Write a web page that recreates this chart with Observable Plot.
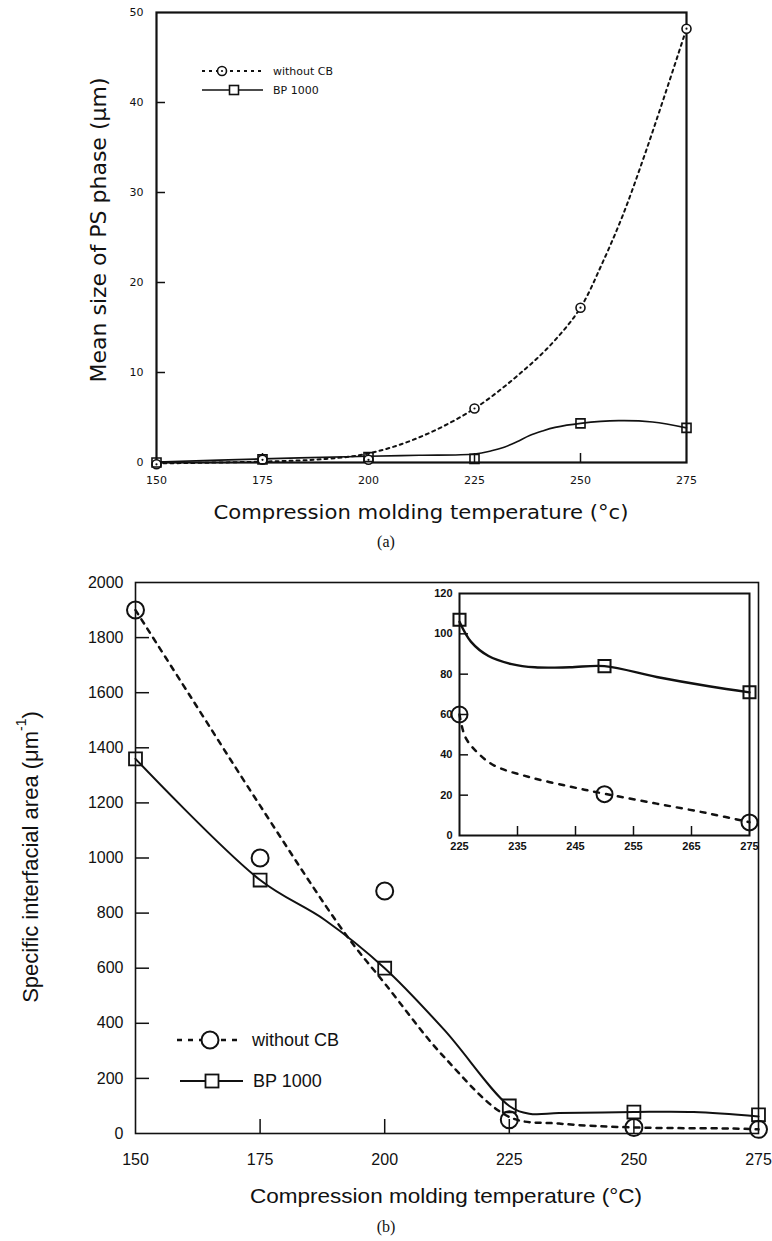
<!DOCTYPE html>
<html><head><meta charset="utf-8">
<script src="https://cdn.jsdelivr.net/npm/d3@7"></script>
<script src="https://cdn.jsdelivr.net/npm/@observablehq/plot@0.6"></script>
<style>
body{margin:0;background:#fff;}
#wrap{position:relative;width:772px;height:1241px;overflow:hidden;background:#fff;}
#wrap svg{position:absolute;}
</style></head><body><div id="wrap"></div>
<script>
// ---------- (a) mean size of PS phase ----------
const temps = [150, 175, 200, 225, 250, 275];
const sizeNoCB = [-0.2, 0.3, 0.3, 6.0, 17.2, 48.2];
const sizeBP = [0, 0.35, 0.6, 0.4, 4.35, 3.85];
const sizeNoCBCurveT = [150, 175, 190, 200, 212, 225, 237, 244, 250, 255, 260, 265, 270, 275];
const sizeNoCBCurve = [-0.1, 0.1, 0.4, 1.0, 2.8, 6.0, 10.4, 13.6, 17.2, 22.0, 27.5, 34.0, 41.0, 48.2];
const sizeBPCurveT = [150, 175, 200, 212, 225, 229, 232, 235, 238, 241, 244, 250, 259, 267, 275];
const sizeBPCurve = [0.05, 0.4, 0.7, 0.8, 0.95, 1.3, 1.7, 2.3, 3.0, 3.5, 3.9, 4.35, 4.65, 4.5, 3.85];
const sizeTicksX = [150, 175, 200, 225, 250, 275];
const sizeTicksY = [0, 10, 20, 30, 40, 50];

// ---------- (b) specific interfacial area ----------
const areaNoCB = [1900, 1000, 880, 50, 22, 15];
const areaBP = [1360, 920, 600, 100, 78, 68];
const areaNoCBCurveT = [150, 161, 175, 192, 200, 212, 225, 235, 250, 270, 275];
const areaNoCBCurve = [1900, 1587, 1190, 727, 545, 276, 60, 36, 22, 18, 15];
const areaBPCurveT = [150, 175, 188, 200, 212, 225, 229, 235, 250, 262, 275];
const areaBPCurve = [1360, 920, 775, 600, 375, 100, 72, 74, 78, 78, 62];
const areaTicksX = [150, 175, 200, 225, 250, 275];
const areaTicksY = [0, 200, 400, 600, 800, 1000, 1200, 1400, 1600, 1800, 2000];

// ---------- inset ----------
const insetTemps = [225, 250, 275];
const insetNoCB = [60, 20.5, 6.5];
const insetBP = [107, 84, 71];
const insetNoCBCurveT = [225, 226, 228, 231, 237, 244, 250, 259, 268, 275];
const insetNoCBCurve = [60, 48.8, 41.4, 34.7, 29, 24.3, 20.7, 15.8, 10.9, 6.6];
const insetBPCurveT = [225, 227, 230, 234, 238, 244, 250, 259, 268, 275];
const insetBPCurve = [106, 96, 89, 85, 83.4, 83.4, 84, 78.6, 74, 71];
const insetTicksX = [225, 235, 245, 255, 265, 275];
const insetTicksY = [0, 20, 40, 60, 80, 100, 120];

const wrap = document.getElementById("wrap");
function place(svg, left, top) { svg.style.left = left + "px"; svg.style.top = top + "px"; wrap.appendChild(svg); }
const fmt = d => String(d);

// ---------- chart (a) ----------
{
  const W = 772, H = 530, ml = 156, mr = 86, mt = 12, mb = 68;
  const fw = W - ml - mr, fh = H - mt - mb, tl = 9;
  const svg = Plot.plot({
    width: W, height: H, marginLeft: ml, marginRight: mr, marginTop: mt, marginBottom: mb,
    x: {domain: [150, 275]}, y: {domain: [0, 50]},
    style: {background: "transparent", fontFamily: "DejaVu Sans", overflow: "visible", color: "#111"},
    marks: [
      Plot.tickY(sizeTicksY.slice(1, -1), {y: d => d, insetRight: fw - tl, strokeWidth: 1.5}),
      Plot.tickX(sizeTicksX.slice(1, -1), {x: d => d, insetTop: fh - tl, strokeWidth: 1.5}),
      Plot.axisX({ticks: sizeTicksX, tickSize: 0, tickPadding: 14, fontSize: 11, tickFormat: fmt, label: null}),
      Plot.axisY({ticks: sizeTicksY, tickSize: 0, tickPadding: 13, fontSize: 11, tickFormat: fmt, label: null}),
      Plot.line(d3.zip(sizeNoCBCurveT, sizeNoCBCurve), {x: d => d[0], y: d => d[1], curve: "catmull-rom", stroke: "#111", strokeWidth: 2, strokeDasharray: "3,4"}),
      Plot.line(d3.zip(sizeBPCurveT, sizeBPCurve), {x: d => d[0], y: d => d[1], curve: "catmull-rom", stroke: "#111", strokeWidth: 1.6}),
      Plot.frame({stroke: "#111", strokeWidth: 2.2}),
      Plot.dot(d3.zip(temps, sizeNoCB), {x: d => d[0], y: d => d[1], r: 4.5, stroke: "#111", fill: "white", strokeWidth: 1.6}),
      Plot.dot(d3.zip(temps, sizeNoCB), {x: d => d[0], y: d => d[1], r: 1.1, fill: "#111"}),
      Plot.dot(d3.zip(temps, sizeBP), {x: d => d[0], y: d => d[1], symbol: "square", r: 5.1, stroke: "#111", fill: "none", strokeWidth: 1.6})
    ]
  });
  place(svg, 0, 0);
}

// ---------- chart (b) ----------
{
  const W = 772, H = 620, ml = 135, mr = 14, mt = 22, mb = 47;
  const fw = W - ml - mr, fh = H - mt - mb, tl = 14;
  const svg = Plot.plot({
    width: W, height: H, marginLeft: ml, marginRight: mr, marginTop: mt, marginBottom: mb,
    x: {domain: [150, 275]}, y: {domain: [0, 2000]},
    style: {background: "transparent", fontFamily: "Liberation Sans", overflow: "visible", color: "#111"},
    marks: [
      Plot.tickY(areaTicksY.slice(1, -1), {y: d => d, insetRight: fw - tl, strokeWidth: 1.5}),
      Plot.tickX(areaTicksX.slice(1, -1), {x: d => d, insetTop: fh - tl, strokeWidth: 1.5}),
      Plot.axisX({ticks: areaTicksX, tickSize: 0, tickPadding: 20, fontSize: 16, tickFormat: fmt, label: null}),
      Plot.axisY({ticks: areaTicksY, tickSize: 0, tickPadding: 12, fontSize: 16, tickFormat: fmt, label: null}),
      Plot.line(d3.zip(areaNoCBCurveT, areaNoCBCurve), {x: d => d[0], y: d => d[1], curve: "catmull-rom", stroke: "#111", strokeWidth: 2.5, strokeDasharray: "5,6"}),
      Plot.line(d3.zip(areaBPCurveT, areaBPCurve), {x: d => d[0], y: d => d[1], curve: "catmull-rom", stroke: "#111", strokeWidth: 2}),
      Plot.frame({stroke: "#111", strokeWidth: 1.6}),
      Plot.dot(d3.zip(temps, areaNoCB), {x: d => d[0], y: d => d[1], r: 8.5, stroke: "#111", fill: "none", strokeWidth: 2}),
      Plot.dot(d3.zip(temps, areaBP), {x: d => d[0], y: d => d[1], symbol: "square", r: 7.3, stroke: "#111", fill: "none", strokeWidth: 1.8})
    ]
  });
  place(svg, 0, 560);
}

// ---------- inset ----------
{
  const W = 330, H = 280, ml = 34, mr = 6, mt = 8, mb = 30;
  const fw = W - ml - mr, fh = H - mt - mb, tl = 9;
  const svg = Plot.plot({
    width: W, height: H, marginLeft: ml, marginRight: mr, marginTop: mt, marginBottom: mb,
    x: {domain: [225, 275]}, y: {domain: [0, 120]},
    style: {background: "transparent", fontFamily: "Liberation Sans", fontWeight: "bold", overflow: "visible", color: "#111"},
    marks: [
      Plot.tickY(insetTicksY.slice(1, -1), {y: d => d, insetRight: fw - tl, strokeWidth: 1.5}),
      Plot.tickX(insetTicksX.slice(1, -1), {x: d => d, insetTop: fh - tl, strokeWidth: 1.5}),
      Plot.axisX({ticks: insetTicksX, tickSize: 0, tickPadding: 7, fontSize: 11, tickFormat: fmt, label: null}),
      Plot.axisY({ticks: insetTicksY, tickSize: 0, tickPadding: 7, fontSize: 11, tickFormat: fmt, label: null}),
      Plot.line(d3.zip(insetNoCBCurveT, insetNoCBCurve), {x: d => d[0], y: d => d[1], curve: "catmull-rom", stroke: "#111", strokeWidth: 2.5, strokeDasharray: "5,7"}),
      Plot.line(d3.zip(insetBPCurveT, insetBPCurve), {x: d => d[0], y: d => d[1], curve: "catmull-rom", stroke: "#111", strokeWidth: 2.4}),
      Plot.frame({stroke: "#111", strokeWidth: 2}),
      Plot.dot(d3.zip(insetTemps, insetNoCB), {x: d => d[0], y: d => d[1], r: 8, stroke: "#111", fill: "none", strokeWidth: 2}),
      Plot.dot(d3.zip(insetTemps, insetBP), {x: d => d[0], y: d => d[1], symbol: "square", r: 6.8, stroke: "#111", fill: "none", strokeWidth: 2})
    ]
  });
  place(svg, 425, 585);
}

// ---------- titles, captions, legends ----------
const ns = "http://www.w3.org/2000/svg";
const ov = document.createElementNS(ns, "svg");
ov.setAttribute("width", 772); ov.setAttribute("height", 1241);
ov.style.pointerEvents = "none";
ov.innerHTML = `
<g fill="#111" stroke="none">
  <text x="99" y="230" transform="rotate(-90 99 230)" text-anchor="middle" dominant-baseline="central" font-family="DejaVu Sans" font-size="21" textLength="305" lengthAdjust="spacingAndGlyphs">Mean size of PS phase (μm)</text>
  <text x="421" y="512" text-anchor="middle" dominant-baseline="central" font-family="DejaVu Sans" font-size="20" textLength="415" lengthAdjust="spacingAndGlyphs">Compression molding temperature (°c)</text>
  <text x="386" y="541" text-anchor="middle" dominant-baseline="central" font-family="Liberation Serif" font-size="16">(a)</text>
  <text x="273" y="71" dominant-baseline="central" font-family="DejaVu Sans" font-size="11">without CB</text>
  <text x="273" y="90" dominant-baseline="central" font-family="DejaVu Sans" font-size="11">BP 1000</text>
  <text x="446" y="1195" text-anchor="middle" dominant-baseline="central" font-family="Liberation Sans" font-size="21" textLength="392" lengthAdjust="spacingAndGlyphs">Compression molding temperature (°C)</text>
  <text x="30" y="857" transform="rotate(-90 30 857)" text-anchor="middle" dominant-baseline="central" font-family="Liberation Sans" font-size="22">Specific interfacial area (μm<tspan font-size="14" dy="-9">-1</tspan><tspan dy="9">)</tspan></text>
  <text x="386" y="1226" text-anchor="middle" dominant-baseline="central" font-family="Liberation Serif" font-size="16">(b)</text>
  <text x="252" y="1040" dominant-baseline="central" font-family="Liberation Sans" font-size="18">without CB</text>
  <text x="253" y="1081" dominant-baseline="central" font-family="Liberation Sans" font-size="18">BP 1000</text>
</g>
<g stroke="#111" fill="none">
  <line x1="202" y1="71" x2="265" y2="71" stroke-width="2" stroke-dasharray="3,4"/>
  <circle cx="222" cy="71" r="4.5" fill="white" stroke-width="1.6"/>
  <circle cx="222" cy="71" r="1.1" fill="#111" stroke="none"/>
  <line x1="202" y1="90" x2="263" y2="90" stroke-width="1.6"/>
  <rect x="229.5" y="85.5" width="9" height="9" fill="white" stroke-width="1.6"/>
  <line x1="177" y1="1040" x2="241" y2="1040" stroke-width="2.5" stroke-dasharray="5,6"/>
  <circle cx="210" cy="1040" r="8.5" fill="white" stroke-width="2"/>
  <line x1="180" y1="1081" x2="243" y2="1081" stroke-width="2"/>
  <rect x="205.5" y="1074.5" width="13" height="13" fill="white" stroke-width="1.8"/>
</g>`;
ov.style.left = "0px"; ov.style.top = "0px";
wrap.appendChild(ov);
</script></body></html>
